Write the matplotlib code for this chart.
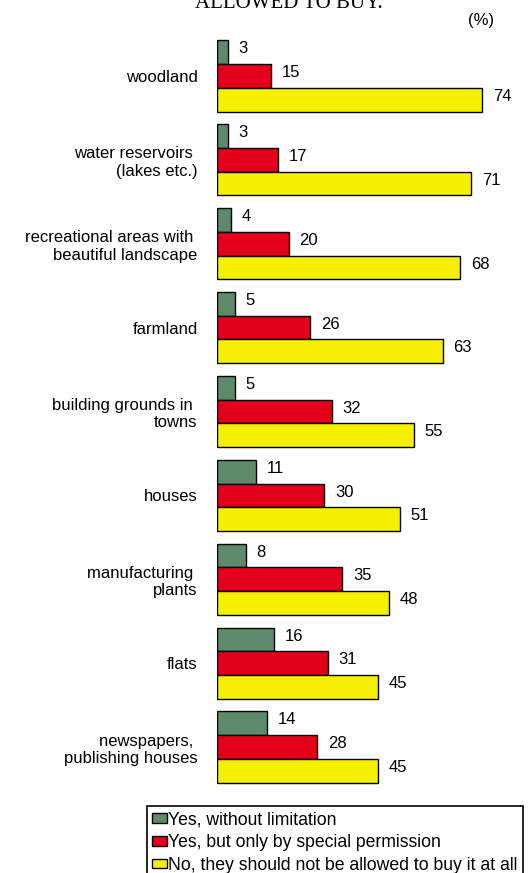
import matplotlib.pyplot as plt
import numpy as np

# categories and answers (%)
categories = ['woodland', 'water reservoirs \n(lakes etc.)',
              'recreational areas with \nbeautiful landscape', 'farmland',
              'building grounds in \ntowns', 'houses', 'manufacturing \nplants',
              'flats', 'newspapers, \npublishing houses']
yes_free = [3, 3, 4, 5, 5, 11, 8, 16, 14]
yes_permit = [15, 17, 20, 26, 32, 30, 35, 31, 28]
no_never = [74, 71, 68, 63, 55, 51, 48, 45, 45]
series_names = ['Yes, without limitation', 'Yes, but only by special permission',
                'No, they should not be allowed to buy it at all']

colors = ['#5e8a6c', '#e2001a', '#f5f000']
plt.rcParams['font.family'] = ['Liberation Sans', 'DejaVu Sans']

fig = plt.figure(figsize=(5.31, 8.73), dpi=100)
ax = fig.add_axes([217/531, 1 - 789/873, 1 - 217/531, (789 - 34)/873])

y = np.arange(len(categories))
h = 0.283
handles = []
for k, vals in enumerate([yes_free, yes_permit, no_never]):
    pos = y + (k - 1) * h
    b = ax.barh(pos, vals, height=h, color=colors[k], edgecolor='black',
                linewidth=1.0, label=series_names[k])
    handles.append(b)
    for p, v in zip(pos, vals):
        ax.text(v + 3.0, p - 0.04, str(v), va='center', ha='left', fontsize=12)

ax.set_xlim(0, 314/3.58)
ax.set_ylim(len(categories) - 0.5, -0.5)
ax.set_yticks(y)
ax.set_yticklabels(categories, fontsize=12, multialignment='right')
ax.tick_params(axis='y', length=0, pad=14)
ax.set_xticks([])
for s in ax.spines.values():
    s.set_visible(False)

fig.text(481/531, 1 - 20/873, '(%)', ha='center', va='center', fontsize=12)
fig.text(289/531, 1 - 8/873, 'ALLOWED TO BUY.', ha='center', va='baseline',
         fontsize=15, family='Liberation Serif')

# legend box runs past the bottom edge, as in the original
leg = fig.legend(handles=handles, labels=series_names, loc='upper left',
                 bbox_to_anchor=(147/531, 1 - 806/873),
                 prop={'size': 12.7},
                 handlelength=0.85, handleheight=0.45, handletextpad=0.05,
                 borderpad=0.3, labelspacing=0.33, borderaxespad=0,
                 fancybox=False, framealpha=1, edgecolor='black')
leg.get_frame().set_linewidth(1.2)

fig.savefig('out.png', dpi=100)
